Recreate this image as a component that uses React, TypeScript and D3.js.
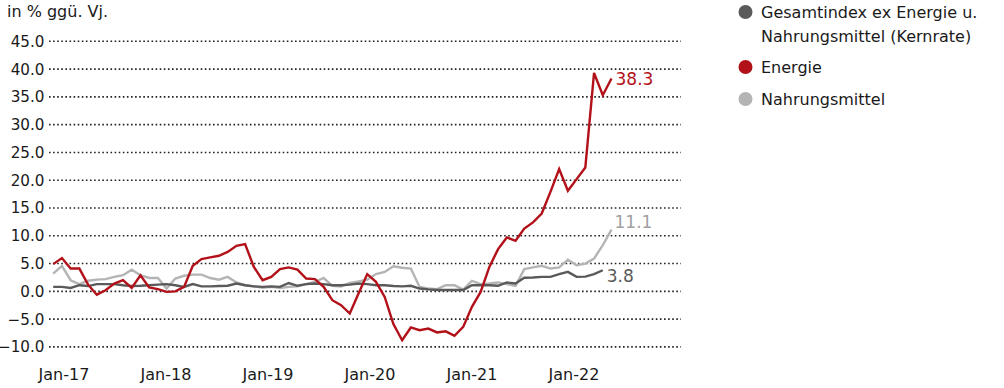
import React, { useEffect, useRef } from "react";
import * as d3 from "d3";

// monthly data, Jan-17 .. May-22 (yoy %)
const energie = [
    4.9, 6.0, 4.1, 4.1, 1.2, -0.6, 0.2, 1.4, 2.0, 0.6, 2.9, 0.7,
    0.4, -0.1, 0.0, 0.8, 4.6, 5.8, 6.1, 6.4, 7.1, 8.2, 8.5, 4.4,
    2.0, 2.6, 4.0, 4.3, 3.9, 2.3, 2.2, 0.8, -1.6, -2.5, -4.0, -0.4,
    3.1, 1.7, -1.0, -5.9, -8.8, -6.5, -7.0, -6.7, -7.4, -7.2, -8.0, -6.4,
    -2.8, -0.1, 4.4, 7.6, 9.7, 9.1, 11.3, 12.4, 14.0, 17.9, 22.0, 18.1,
    20.2, 22.3, 39.3, 35.3, 38.3,
];
const nahrung = [
    3.2, 4.6, 2.0, 1.3, 1.9, 2.1, 2.2, 2.6, 2.9, 3.9, 2.9, 2.4,
    2.4, 0.5, 2.3, 2.8, 3.0, 3.0, 2.4, 2.1, 2.6, 1.6, 1.1, 0.9,
    0.65, 0.8, 0.6, 0.8, 0.9, 1.3, 1.7, 2.4, 1.0, 0.85, 1.5, 1.8,
    2.1, 3.1, 3.5, 4.5, 4.25, 4.1, 0.8, 0.5, 0.4, 1.1, 1.1, 0.3,
    1.9, 1.3, 1.4, 1.6, 1.3, 1.0, 4.0, 4.3, 4.6, 4.1, 4.3, 5.7,
    4.7, 5.0, 5.9, 8.3, 11.1,
];
// core ends one month earlier (Apr-22)
const kernrate = [
    0.8, 0.8, 0.6, 1.1, 0.95, 1.3, 1.3, 1.3, 1.1, 0.95, 1.0, 1.1,
    1.2, 1.3, 1.1, 0.8, 1.3, 0.9, 0.9, 0.95, 1.0, 1.4, 1.1, 0.9,
    0.8, 0.9, 0.8, 1.5, 1.0, 1.3, 1.4, 1.3, 1.1, 1.1, 1.2, 1.4,
    1.3, 1.1, 1.1, 0.95, 0.9, 1.0, 0.5, 0.35, 0.25, 0.25, 0.25, 0.25,
    1.1, 1.1, 1.1, 1.0, 1.6, 1.4, 2.45, 2.5, 2.6, 2.6, 3.1, 3.5,
    2.6, 2.65, 3.1, 3.8,
];

const months = d3.timeMonth.range(new Date(2017, 0, 1), new Date(2022, 5, 1));
const xLabels = ["Jan-17", "Jan-18", "Jan-19", "Jan-20", "Jan-21", "Jan-22"];
const yTicks = [-10, -5, 0, 5, 10, 15, 20, 25, 30, 35, 40, 45];

const RED = "#b3111a";
const DARK = "#5a5a5a";
const LIGHT = "#b4b4b4";

const series = [
    { name: "Gesamtindex ex Energie u.|Nahrungsmittel (Kernrate)", values: kernrate, color: DARK, labelColor: DARK, dx: 4, dy: 6 },
    { name: "Energie", values: energie, color: RED, labelColor: RED, dx: 4, dy: 0 },
    { name: "Nahrungsmittel", values: nahrung, color: LIGHT, labelColor: "#a0a0a0", dx: 3, dy: -8 },
];

const W = 1004;
const H = 388;
const FONT = "DejaVu Sans";

const App = () => {
    const svgRef = useRef<SVGSVGElement>(null);

    useEffect(() => {
        if (!svgRef.current) return;
        const svg = d3.select(svgRef.current);
        svg.selectAll("*").remove();

        const x = d3
            .scalePoint<number>()
            .domain(months.map((_, i) => i))
            .range([53.2, 611.5]);
        const xl = d3.scalePoint<string>().domain(xLabels).range([64, 574]);
        const y = d3.scaleLinear().domain([-10, 45]).range([346.9, 41.3]);

        // title
        svg.append("text")
            .attr("x", 7)
            .attr("y", 17)
            .attr("font-family", FONT)
            .attr("font-size", 16)
            .attr("fill", "#1a1a1a")
            .text("in % ggü. Vj.");

        // gridlines + y labels
        const grid = svg.append("g");
        grid.selectAll("line")
            .data(yTicks)
            .enter()
            .append("line")
            .attr("x1", 49)
            .attr("x2", 681)
            .attr("y1", (d) => y(d))
            .attr("y2", (d) => y(d))
            .attr("stroke", "#222")
            .attr("stroke-width", 1.6)
            .attr("stroke-dasharray", "1.6,2.5");
        grid.selectAll("text")
            .data(yTicks)
            .enter()
            .append("text")
            .attr("x", 44.5)
            .attr("y", (d) => y(d))
            .attr("dy", "0.36em")
            .attr("text-anchor", "end")
            .attr("font-family", FONT)
            .attr("font-size", 15.2)
            .attr("fill", "#1a1a1a")
            .text((d) => d3.format(".1f")(d));

        // x labels
        svg.append("g")
            .selectAll("text")
            .data(xLabels)
            .enter()
            .append("text")
            .attr("x", (d) => xl(d) || 0)
            .attr("y", 380)
            .attr("text-anchor", "middle")
            .attr("font-family", FONT)
            .attr("font-size", 16)
            .attr("fill", "#1a1a1a")
            .text((d) => d);

        // lines (draw order: light, dark, red on top)
        const line = d3
            .line<number>()
            .x((_, i) => x(i) || 0)
            .y((d) => y(d));
        [series[2], series[0], series[1]].forEach((s) => {
            svg.append("path")
                .datum(s.values)
                .attr("d", line)
                .attr("fill", "none")
                .attr("stroke", s.color)
                .attr("stroke-width", 2.4)
                .attr("stroke-linejoin", "miter");

            const last = s.values.length - 1;
            svg.append("text")
                .attr("x", (x(last) || 0) + s.dx)
                .attr("y", y(s.values[last]) + s.dy)
                .attr("dy", "0.36em")
                .attr("font-family", FONT)
                .attr("font-size", 17)
                .attr("fill", s.labelColor)
                .text(d3.format(".1f")(s.values[last]));
        });

        // legend
        const legendY = [12, 67, 99];
        const lg = svg.append("g");
        series.forEach((s, i) => {
            lg.append("circle")
                .attr("cx", 745.5)
                .attr("cy", legendY[i])
                .attr("r", 7)
                .attr("fill", s.color);
            const parts = s.name.split("|");
            parts.forEach((p, j) => {
                lg.append("text")
                    .attr("x", 761)
                    .attr("y", legendY[i] + j * 24.5)
                    .attr("dy", "0.36em")
                    .attr("font-family", FONT)
                    .attr("font-size", 16)
                    .attr("fill", "#1a1a1a")
                    .text(p);
            });
        });
    }, []);

    return (
        <svg
            ref={svgRef}
            width={W}
            height={H}
            style={{ position: "absolute", left: 0, top: 0, display: "block", background: "#fff" }}
        />
    );
};

export default App;
